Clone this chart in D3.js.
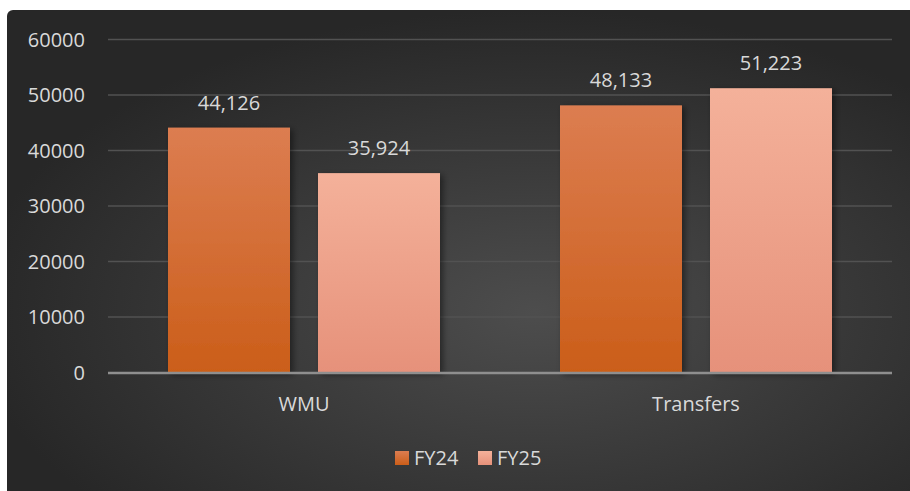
<!DOCTYPE html>
<html>
  <head>
    <meta charset="utf-8">
    <script src="https://d3js.org/d3.v7.min.js"></script>
    <style>
      body { margin: 0; background: #ffffff; }
      svg { display: block; font-family: "Open Sans", sans-serif; }
    </style>
  </head>
<body>
  <script type="text/javascript">

    // data
    var categories = ["WMU", "Transfers"];
    var seriesNames = ["FY24", "FY25"];
    var fy24 = [44126, 48133];
    var fy25 = [35924, 51223];
    var yTicks = [0, 10000, 20000, 30000, 40000, 50000, 60000];

    var W = 910, H = 491;
    var plot = {left: 108, right: 892, top: 39.5, bottom: 372.5};

    var svg = d3.select("body").append("svg")
      .attr("width", W)
      .attr("height", H);

    var defs = svg.append("defs");

    // dark radial background
    var bg = defs.append("radialGradient").attr("id", "bg")
      .attr("cx", "58%").attr("cy", "62%").attr("r", "62%");
    bg.append("stop").attr("offset", "0%").attr("stop-color", "#4d4d4d");
    bg.append("stop").attr("offset", "100%").attr("stop-color", "#272727");

    var g24 = defs.append("linearGradient").attr("id", "g24")
      .attr("x1", 0).attr("y1", 0).attr("x2", 0).attr("y2", 1);
    g24.append("stop").attr("offset", "0%").attr("stop-color", "#dc7d51");
    g24.append("stop").attr("offset", "100%").attr("stop-color", "#cb5e19");

    var g25 = defs.append("linearGradient").attr("id", "g25")
      .attr("x1", 0).attr("y1", 0).attr("x2", 0).attr("y2", 1);
    g25.append("stop").attr("offset", "0%").attr("stop-color", "#f4b19a");
    g25.append("stop").attr("offset", "100%").attr("stop-color", "#e6917a");

    var shadow = defs.append("filter").attr("id", "shadow")
      .attr("x", "-20%").attr("y", "-20%").attr("width", "150%").attr("height", "150%");
    shadow.append("feDropShadow")
      .attr("dx", 3).attr("dy", 2).attr("stdDeviation", 3)
      .attr("flood-color", "#000").attr("flood-opacity", 0.45);

    svg.append("rect")
      .attr("x", 7).attr("y", 10)
      .attr("width", W - 7 + 6).attr("height", H - 10 + 6)
      .attr("rx", 6)
      .attr("fill", "url(#bg)");

    // scales
    var y = d3.scaleLinear().domain([0, 60000]).range([plot.bottom, plot.top]);

    var x0 = d3.scaleBand().domain(categories)
      .range([plot.left, plot.right]).padding(0);

    var x1 = d3.scaleBand().domain(seriesNames)
      .range([60, x0.bandwidth() - 60]).paddingInner(0.1867).paddingOuter(0);

    // gridlines and y labels
    svg.selectAll(".grid").data(yTicks.filter(function(d){ return d > 0; }))
      .enter().append("line")
        .attr("x1", plot.left).attr("x2", plot.right)
        .attr("y1", function(d){ return y(d); })
        .attr("y2", function(d){ return y(d); })
        .attr("stroke", "#525252")
        .attr("stroke-width", 1.5);

    svg.selectAll(".ylab").data(yTicks)
      .enter().append("text")
        .attr("x", 85)
        .attr("y", function(d){ return y(d) + 7; })
        .attr("text-anchor", "end")
        .attr("font-size", 20)
        .attr("fill", "#d9d9d9")
        .text(function(d){ return d; });

    // bars
    var rows = categories.map(function(c, i){
      return {cat: c, vals: [
        {s: "FY24", v: fy24[i], fill: "url(#g24)"},
        {s: "FY25", v: fy25[i], fill: "url(#g25)"}
      ]};
    });

    var groups = svg.selectAll(".grp").data(rows)
      .enter().append("g")
        .attr("transform", function(d){ return "translate(" + x0(d.cat) + ",0)"; });

    groups.selectAll("rect").data(function(d){ return d.vals; })
      .enter().append("rect")
        .attr("x", function(d){ return x1(d.s); })
        .attr("y", function(d){ return y(d.v); })
        .attr("width", x1.bandwidth())
        .attr("height", function(d){ return y(0) - y(d.v); })
        .attr("fill", function(d){ return d.fill; })
        .attr("filter", "url(#shadow)");

    groups.selectAll(".val").data(function(d){ return d.vals; })
      .enter().append("text")
        .attr("x", function(d){ return x1(d.s) + x1.bandwidth() / 2; })
        .attr("y", function(d){ return y(d.v) - 18; })
        .attr("text-anchor", "middle")
        .attr("font-size", 20)
        .attr("fill", "#d9d9d9")
        .text(function(d){ return d3.format(",")(d.v); });

    // zero axis line
    svg.append("line")
      .attr("x1", plot.left).attr("x2", plot.right)
      .attr("y1", y(0) + 0.5).attr("y2", y(0) + 0.5)
      .attr("stroke", "#8f8f8f")
      .attr("stroke-width", 2.5);

    // category labels
    svg.selectAll(".xlab").data(categories)
      .enter().append("text")
        .attr("x", function(d){ return x0(d) + x0.bandwidth() / 2; })
        .attr("y", 411)
        .attr("text-anchor", "middle")
        .attr("font-size", 20)
        .attr("fill", "#d9d9d9")
        .text(function(d){ return d; });

    // legend
    var legendX = [395, 478];
    var legendFill = ["url(#g24)", "url(#g25)"];
    var leg = svg.selectAll(".leg").data(seriesNames)
      .enter().append("g")
        .attr("transform", function(d, i){ return "translate(" + legendX[i] + ",451)"; });
    leg.append("rect")
      .attr("width", 14).attr("height", 14)
      .attr("fill", function(d, i){ return legendFill[i]; });
    leg.append("text")
      .attr("x", 19).attr("y", 14)
      .attr("font-size", 20)
      .attr("fill", "#d9d9d9")
      .text(function(d){ return d; });

  </script>
</body>
</html>
